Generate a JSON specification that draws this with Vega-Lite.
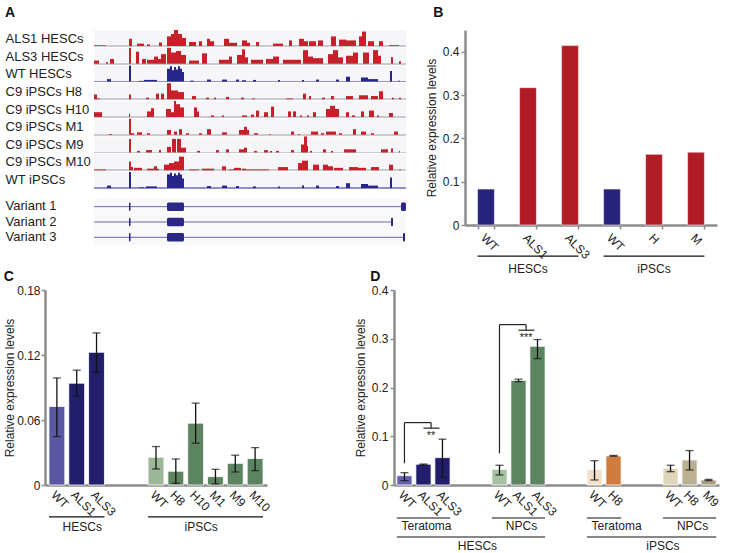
{
"$schema": "https://vega.github.io/schema/vega-lite/v6.json",
"padding": {"left": 3, "top": 6, "right": 0, "bottom": 0},
"background": "white",
"config": {
 "font": "Liberation Sans",
 "view": {"stroke": null},
 "axis": {"domainColor": "#8c8c8c", "domainWidth": 2.5, "tickColor": "#8c8c8c", "tickWidth": 1.5, "tickSize": 4, "labelColor": "#222", "titleColor": "#222", "labelFontSize": 12, "titleFontSize": 12, "titleFontWeight": "normal", "grid": false, "labelFont": "Liberation Sans", "titleFont": "Liberation Sans"},
 "title": {"fontSize": 14, "fontWeight": "bold", "anchor": "start", "font": "Liberation Sans", "color": "#111"}
},
"datasets": {
 "tr": [
  {"t":"ALS1 HESCs","a":0,"b":12,"v":0.04},{"t":"ALS1 HESCs","a":35,"b":38,"v":0.45},{"t":"ALS1 HESCs","a":43,"b":50,"v":0.15},{"t":"ALS1 HESCs","a":53,"b":56,"v":0.1},{"t":"ALS1 HESCs","a":65,"b":68,"v":0.22},{"t":"ALS1 HESCs","a":73,"b":77,"v":0.6},{"t":"ALS1 HESCs","a":77,"b":80,"v":0.75},{"t":"ALS1 HESCs","a":80,"b":84,"v":1},{"t":"ALS1 HESCs","a":84,"b":88,"v":0.75},{"t":"ALS1 HESCs","a":88,"b":92,"v":0.5},{"t":"ALS1 HESCs","a":95,"b":102,"v":0.25},{"t":"ALS1 HESCs","a":105,"b":108,"v":0.3},{"t":"ALS1 HESCs","a":113,"b":116,"v":0.45},{"t":"ALS1 HESCs","a":116,"b":120,"v":0.3},{"t":"ALS1 HESCs","a":130,"b":135,"v":0.45},{"t":"ALS1 HESCs","a":135,"b":143,"v":0.2},{"t":"ALS1 HESCs","a":148,"b":153,"v":0.35},{"t":"ALS1 HESCs","a":153,"b":156,"v":0.2},{"t":"ALS1 HESCs","a":162,"b":165,"v":0.25},{"t":"ALS1 HESCs","a":179,"b":189,"v":0.15},{"t":"ALS1 HESCs","a":195,"b":198,"v":0.35},{"t":"ALS1 HESCs","a":205,"b":210,"v":0.45},{"t":"ALS1 HESCs","a":210,"b":214,"v":0.3},{"t":"ALS1 HESCs","a":215,"b":222,"v":0.3},{"t":"ALS1 HESCs","a":224,"b":229,"v":0.35},{"t":"ALS1 HESCs","a":237,"b":242,"v":0.6},{"t":"ALS1 HESCs","a":245,"b":252,"v":0.4},{"t":"ALS1 HESCs","a":252,"b":262,"v":0.35},{"t":"ALS1 HESCs","a":265,"b":268,"v":0.6},{"t":"ALS1 HESCs","a":268,"b":272,"v":0.9},{"t":"ALS1 HESCs","a":274,"b":280,"v":0.3},{"t":"ALS1 HESCs","a":285,"b":289,"v":0.3},{"t":"ALS1 HESCs","a":295,"b":305,"v":0.05},
  {"t":"ALS3 HESCs","a":0,"b":5,"v":0.2},{"t":"ALS3 HESCs","a":12,"b":14,"v":0.1},{"t":"ALS3 HESCs","a":16,"b":20,"v":0.3},{"t":"ALS3 HESCs","a":35,"b":37,"v":1},{"t":"ALS3 HESCs","a":42,"b":45,"v":0.75},{"t":"ALS3 HESCs","a":48,"b":52,"v":0.3},{"t":"ALS3 HESCs","a":53,"b":60,"v":0.25},{"t":"ALS3 HESCs","a":60,"b":64,"v":0.45},{"t":"ALS3 HESCs","a":64,"b":67,"v":0.3},{"t":"ALS3 HESCs","a":67,"b":72,"v":0.6},{"t":"ALS3 HESCs","a":73,"b":77,"v":1},{"t":"ALS3 HESCs","a":77,"b":82,"v":0.7},{"t":"ALS3 HESCs","a":82,"b":87,"v":0.8},{"t":"ALS3 HESCs","a":87,"b":92,"v":0.55},{"t":"ALS3 HESCs","a":95,"b":105,"v":0.2},{"t":"ALS3 HESCs","a":108,"b":113,"v":0.65},{"t":"ALS3 HESCs","a":125,"b":135,"v":0.25},{"t":"ALS3 HESCs","a":135,"b":138,"v":0.45},{"t":"ALS3 HESCs","a":143,"b":148,"v":0.55},{"t":"ALS3 HESCs","a":148,"b":151,"v":0.9},{"t":"ALS3 HESCs","a":151,"b":154,"v":0.4},{"t":"ALS3 HESCs","a":157,"b":169,"v":0.25},{"t":"ALS3 HESCs","a":172,"b":179,"v":0.3},{"t":"ALS3 HESCs","a":179,"b":185,"v":0.45},{"t":"ALS3 HESCs","a":189,"b":207,"v":0.25},{"t":"ALS3 HESCs","a":209,"b":214,"v":0.85},{"t":"ALS3 HESCs","a":214,"b":219,"v":0.45},{"t":"ALS3 HESCs","a":219,"b":229,"v":0.35},{"t":"ALS3 HESCs","a":234,"b":239,"v":0.6},{"t":"ALS3 HESCs","a":239,"b":244,"v":0.85},{"t":"ALS3 HESCs","a":244,"b":249,"v":0.4},{"t":"ALS3 HESCs","a":252,"b":259,"v":0.5},{"t":"ALS3 HESCs","a":259,"b":264,"v":0.7},{"t":"ALS3 HESCs","a":269,"b":275,"v":0.7},{"t":"ALS3 HESCs","a":279,"b":284,"v":0.85},{"t":"ALS3 HESCs","a":284,"b":287,"v":0.5},{"t":"ALS3 HESCs","a":297,"b":299,"v":0.4},{"t":"ALS3 HESCs","a":305,"b":307,"v":0.15},
  {"t":"WT HESCs","a":13,"b":17,"v":0.15},{"t":"WT HESCs","a":35,"b":37,"v":1},{"t":"WT HESCs","a":45,"b":50,"v":0.04},{"t":"WT HESCs","a":50,"b":63,"v":0.1},{"t":"WT HESCs","a":73,"b":76,"v":0.8},{"t":"WT HESCs","a":76,"b":78,"v":0.95},{"t":"WT HESCs","a":78,"b":80,"v":0.7},{"t":"WT HESCs","a":80,"b":82,"v":0.9},{"t":"WT HESCs","a":82,"b":84,"v":0.75},{"t":"WT HESCs","a":84,"b":86,"v":0.95},{"t":"WT HESCs","a":86,"b":88,"v":0.8},{"t":"WT HESCs","a":88,"b":90,"v":0.6},{"t":"WT HESCs","a":96,"b":100,"v":0.05},{"t":"WT HESCs","a":113,"b":117,"v":0.12},{"t":"WT HESCs","a":128,"b":133,"v":0.12},{"t":"WT HESCs","a":142,"b":145,"v":0.12},{"t":"WT HESCs","a":148,"b":152,"v":0.08},{"t":"WT HESCs","a":159,"b":162,"v":0.1},{"t":"WT HESCs","a":184,"b":186,"v":0.1},{"t":"WT HESCs","a":208,"b":210,"v":0.1},{"t":"WT HESCs","a":222,"b":225,"v":0.12},{"t":"WT HESCs","a":242,"b":245,"v":0.12},{"t":"WT HESCs","a":252,"b":256,"v":0.3},{"t":"WT HESCs","a":267,"b":274,"v":0.25},{"t":"WT HESCs","a":274,"b":284,"v":0.15},{"t":"WT HESCs","a":296,"b":298,"v":0.65},{"t":"WT HESCs","a":304,"b":306,"v":0.05},
  {"t":"C9 iPSCs H8","a":0,"b":3,"v":0.3},{"t":"C9 iPSCs H8","a":3,"b":6,"v":0.05},{"t":"C9 iPSCs H8","a":35,"b":37,"v":0.3},{"t":"C9 iPSCs H8","a":52,"b":55,"v":0.1},{"t":"C9 iPSCs H8","a":62,"b":65,"v":0.35},{"t":"C9 iPSCs H8","a":67,"b":70,"v":0.35},{"t":"C9 iPSCs H8","a":73,"b":77,"v":1},{"t":"C9 iPSCs H8","a":77,"b":84,"v":0.55},{"t":"C9 iPSCs H8","a":84,"b":90,"v":0.45},{"t":"C9 iPSCs H8","a":98,"b":102,"v":0.2},{"t":"C9 iPSCs H8","a":112,"b":115,"v":0.1},{"t":"C9 iPSCs H8","a":120,"b":122,"v":0.1},{"t":"C9 iPSCs H8","a":132,"b":135,"v":0.15},{"t":"C9 iPSCs H8","a":147,"b":150,"v":0.1},{"t":"C9 iPSCs H8","a":158,"b":161,"v":0.05},{"t":"C9 iPSCs H8","a":192,"b":199,"v":0.05},{"t":"C9 iPSCs H8","a":209,"b":212,"v":0.35},{"t":"C9 iPSCs H8","a":215,"b":217,"v":0.2},{"t":"C9 iPSCs H8","a":228,"b":231,"v":0.1},{"t":"C9 iPSCs H8","a":237,"b":240,"v":0.2},{"t":"C9 iPSCs H8","a":252,"b":259,"v":0.2},{"t":"C9 iPSCs H8","a":265,"b":274,"v":0.25},{"t":"C9 iPSCs H8","a":277,"b":284,"v":0.2},{"t":"C9 iPSCs H8","a":285,"b":289,"v":0.5},{"t":"C9 iPSCs H8","a":298,"b":300,"v":0.1},{"t":"C9 iPSCs H8","a":305,"b":307,"v":0.1},
  {"t":"C9 iPSCs H10","a":0,"b":8,"v":0.3},{"t":"C9 iPSCs H10","a":35,"b":36,"v":0.2},{"t":"C9 iPSCs H10","a":53,"b":57,"v":0.35},{"t":"C9 iPSCs H10","a":57,"b":60,"v":0.55},{"t":"C9 iPSCs H10","a":72,"b":77,"v":0.5},{"t":"C9 iPSCs H10","a":77,"b":80,"v":0.3},{"t":"C9 iPSCs H10","a":80,"b":82,"v":1},{"t":"C9 iPSCs H10","a":82,"b":86,"v":0.8},{"t":"C9 iPSCs H10","a":86,"b":90,"v":0.6},{"t":"C9 iPSCs H10","a":100,"b":103,"v":0.6},{"t":"C9 iPSCs H10","a":103,"b":105,"v":0.35},{"t":"C9 iPSCs H10","a":117,"b":120,"v":0.1},{"t":"C9 iPSCs H10","a":128,"b":130,"v":0.1},{"t":"C9 iPSCs H10","a":148,"b":153,"v":0.1},{"t":"C9 iPSCs H10","a":157,"b":160,"v":0.15},{"t":"C9 iPSCs H10","a":162,"b":165,"v":0.4},{"t":"C9 iPSCs H10","a":170,"b":174,"v":0.3},{"t":"C9 iPSCs H10","a":177,"b":180,"v":0.65},{"t":"C9 iPSCs H10","a":194,"b":197,"v":0.35},{"t":"C9 iPSCs H10","a":199,"b":202,"v":0.35},{"t":"C9 iPSCs H10","a":206,"b":208,"v":0.1},{"t":"C9 iPSCs H10","a":213,"b":215,"v":0.1},{"t":"C9 iPSCs H10","a":219,"b":222,"v":0.3},{"t":"C9 iPSCs H10","a":232,"b":236,"v":0.5},{"t":"C9 iPSCs H10","a":236,"b":241,"v":0.7},{"t":"C9 iPSCs H10","a":241,"b":245,"v":0.5},{"t":"C9 iPSCs H10","a":252,"b":255,"v":0.3},{"t":"C9 iPSCs H10","a":258,"b":261,"v":0.1},{"t":"C9 iPSCs H10","a":267,"b":270,"v":0.35},{"t":"C9 iPSCs H10","a":275,"b":280,"v":0.4},{"t":"C9 iPSCs H10","a":283,"b":285,"v":0.1},{"t":"C9 iPSCs H10","a":295,"b":299,"v":0.25},
  {"t":"C9 iPSCs M1","a":15,"b":18,"v":0.05},{"t":"C9 iPSCs M1","a":35,"b":37,"v":1},{"t":"C9 iPSCs M1","a":37,"b":40,"v":0.1},{"t":"C9 iPSCs M1","a":43,"b":48,"v":0.15},{"t":"C9 iPSCs M1","a":53,"b":56,"v":0.1},{"t":"C9 iPSCs M1","a":73,"b":77,"v":0.3},{"t":"C9 iPSCs M1","a":80,"b":83,"v":0.2},{"t":"C9 iPSCs M1","a":85,"b":88,"v":0.35},{"t":"C9 iPSCs M1","a":92,"b":95,"v":0.1},{"t":"C9 iPSCs M1","a":105,"b":108,"v":0.1},{"t":"C9 iPSCs M1","a":113,"b":117,"v":0.35},{"t":"C9 iPSCs M1","a":128,"b":133,"v":0.15},{"t":"C9 iPSCs M1","a":145,"b":150,"v":0.3},{"t":"C9 iPSCs M1","a":150,"b":153,"v":0.5},{"t":"C9 iPSCs M1","a":153,"b":155,"v":0.3},{"t":"C9 iPSCs M1","a":160,"b":164,"v":0.1},{"t":"C9 iPSCs M1","a":175,"b":177,"v":0.05},{"t":"C9 iPSCs M1","a":197,"b":200,"v":0.2},{"t":"C9 iPSCs M1","a":204,"b":206,"v":0.05},{"t":"C9 iPSCs M1","a":217,"b":224,"v":0.2},{"t":"C9 iPSCs M1","a":227,"b":230,"v":0.1},{"t":"C9 iPSCs M1","a":232,"b":242,"v":0.2},{"t":"C9 iPSCs M1","a":245,"b":248,"v":0.1},{"t":"C9 iPSCs M1","a":259,"b":262,"v":0.35},{"t":"C9 iPSCs M1","a":267,"b":272,"v":0.2},{"t":"C9 iPSCs M1","a":277,"b":280,"v":0.1},{"t":"C9 iPSCs M1","a":300,"b":304,"v":0.2},
  {"t":"C9 iPSCs M9","a":35,"b":37,"v":0.85},{"t":"C9 iPSCs M9","a":43,"b":46,"v":0.1},{"t":"C9 iPSCs M9","a":52,"b":58,"v":0.15},{"t":"C9 iPSCs M9","a":65,"b":67,"v":0.15},{"t":"C9 iPSCs M9","a":73,"b":77,"v":0.35},{"t":"C9 iPSCs M9","a":78,"b":82,"v":0.85},{"t":"C9 iPSCs M9","a":83,"b":87,"v":0.85},{"t":"C9 iPSCs M9","a":87,"b":92,"v":0.3},{"t":"C9 iPSCs M9","a":103,"b":106,"v":0.1},{"t":"C9 iPSCs M9","a":122,"b":125,"v":0.15},{"t":"C9 iPSCs M9","a":132,"b":135,"v":0.2},{"t":"C9 iPSCs M9","a":145,"b":150,"v":0.2},{"t":"C9 iPSCs M9","a":150,"b":153,"v":0.3},{"t":"C9 iPSCs M9","a":160,"b":163,"v":0.1},{"t":"C9 iPSCs M9","a":170,"b":174,"v":0.15},{"t":"C9 iPSCs M9","a":176,"b":178,"v":0.1},{"t":"C9 iPSCs M9","a":182,"b":185,"v":0.1},{"t":"C9 iPSCs M9","a":197,"b":200,"v":0.15},{"t":"C9 iPSCs M9","a":207,"b":210,"v":0.5},{"t":"C9 iPSCs M9","a":210,"b":213,"v":1},{"t":"C9 iPSCs M9","a":213,"b":214,"v":0.4},{"t":"C9 iPSCs M9","a":216,"b":218,"v":0.1},{"t":"C9 iPSCs M9","a":229,"b":232,"v":0.2},{"t":"C9 iPSCs M9","a":237,"b":239,"v":0.1},{"t":"C9 iPSCs M9","a":250,"b":256,"v":0.2},{"t":"C9 iPSCs M9","a":256,"b":262,"v":0.2},{"t":"C9 iPSCs M9","a":287,"b":294,"v":0.2},{"t":"C9 iPSCs M9","a":297,"b":299,"v":0.25},{"t":"C9 iPSCs M9","a":305,"b":306,"v":0.1},
  {"t":"C9 iPSCs M10","a":0,"b":12,"v":0.05},{"t":"C9 iPSCs M10","a":35,"b":37,"v":0.55},{"t":"C9 iPSCs M10","a":37,"b":39,"v":0.2},{"t":"C9 iPSCs M10","a":40,"b":48,"v":0.15},{"t":"C9 iPSCs M10","a":53,"b":60,"v":0.1},{"t":"C9 iPSCs M10","a":60,"b":63,"v":0.25},{"t":"C9 iPSCs M10","a":63,"b":65,"v":0.1},{"t":"C9 iPSCs M10","a":70,"b":75,"v":0.35},{"t":"C9 iPSCs M10","a":75,"b":80,"v":0.45},{"t":"C9 iPSCs M10","a":80,"b":85,"v":0.55},{"t":"C9 iPSCs M10","a":85,"b":90,"v":0.85},{"t":"C9 iPSCs M10","a":95,"b":105,"v":0.05},{"t":"C9 iPSCs M10","a":108,"b":120,"v":0.1},{"t":"C9 iPSCs M10","a":128,"b":132,"v":0.25},{"t":"C9 iPSCs M10","a":135,"b":140,"v":0.05},{"t":"C9 iPSCs M10","a":140,"b":147,"v":0.15},{"t":"C9 iPSCs M10","a":148,"b":152,"v":0.1},{"t":"C9 iPSCs M10","a":152,"b":175,"v":0.05},{"t":"C9 iPSCs M10","a":184,"b":194,"v":0.2},{"t":"C9 iPSCs M10","a":204,"b":208,"v":0.45},{"t":"C9 iPSCs M10","a":208,"b":214,"v":0.6},{"t":"C9 iPSCs M10","a":219,"b":225,"v":0.35},{"t":"C9 iPSCs M10","a":229,"b":234,"v":0.35},{"t":"C9 iPSCs M10","a":234,"b":239,"v":0.25},{"t":"C9 iPSCs M10","a":240,"b":249,"v":0.15},{"t":"C9 iPSCs M10","a":255,"b":264,"v":0.2},{"t":"C9 iPSCs M10","a":264,"b":272,"v":0.15},{"t":"C9 iPSCs M10","a":277,"b":285,"v":0.2},{"t":"C9 iPSCs M10","a":295,"b":299,"v":0.35},{"t":"C9 iPSCs M10","a":305,"b":307,"v":0.05},
  {"t":"WT iPSCs","a":13,"b":17,"v":0.15},{"t":"WT iPSCs","a":35,"b":37,"v":1},{"t":"WT iPSCs","a":45,"b":50,"v":0.04},{"t":"WT iPSCs","a":52,"b":63,"v":0.1},{"t":"WT iPSCs","a":73,"b":76,"v":0.85},{"t":"WT iPSCs","a":76,"b":78,"v":0.95},{"t":"WT iPSCs","a":78,"b":80,"v":0.75},{"t":"WT iPSCs","a":80,"b":82,"v":0.9},{"t":"WT iPSCs","a":82,"b":84,"v":0.8},{"t":"WT iPSCs","a":84,"b":86,"v":0.95},{"t":"WT iPSCs","a":86,"b":88,"v":0.85},{"t":"WT iPSCs","a":88,"b":90,"v":0.6},{"t":"WT iPSCs","a":113,"b":117,"v":0.12},{"t":"WT iPSCs","a":128,"b":133,"v":0.15},{"t":"WT iPSCs","a":142,"b":145,"v":0.12},{"t":"WT iPSCs","a":159,"b":162,"v":0.1},{"t":"WT iPSCs","a":184,"b":186,"v":0.1},{"t":"WT iPSCs","a":208,"b":210,"v":0.15},{"t":"WT iPSCs","a":222,"b":225,"v":0.15},{"t":"WT iPSCs","a":242,"b":245,"v":0.12},{"t":"WT iPSCs","a":252,"b":256,"v":0.3},{"t":"WT iPSCs","a":267,"b":274,"v":0.25},{"t":"WT iPSCs","a":274,"b":284,"v":0.15},{"t":"WT iPSCs","a":296,"b":298,"v":0.65}
 ],
 "va": [
  {"var":"Variant 1","k":"l","a":0,"b":312},{"var":"Variant 1","k":"e","a":35,"b":36.5},{"var":"Variant 1","k":"e","a":73,"b":90},{"var":"Variant 1","k":"e","a":307,"b":312},
  {"var":"Variant 2","k":"l","a":0,"b":299},{"var":"Variant 2","k":"e","a":35,"b":36.5},{"var":"Variant 2","k":"e","a":73,"b":90},{"var":"Variant 2","k":"e","a":297,"b":299},
  {"var":"Variant 3","k":"l","a":0,"b":311},{"var":"Variant 3","k":"e","a":35,"b":36.5},{"var":"Variant 3","k":"e","a":73,"b":90},{"var":"Variant 3","k":"e","a":309,"b":311}
 ],
 "b": [{"id":"H|WT","v":0.083},{"id":"H|ALS1","v":0.317},{"id":"H|ALS3","v":0.414},{"id":"I|WT","v":0.083},{"id":"I|H","v":0.163},{"id":"I|M","v":0.168}],
 "bg": [{"a":"H|WT","b":"H|ALS3","m":"H|ALS1","g":"HESCs"},{"a":"I|WT","b":"I|M","m":"I|H","g":"iPSCs"}],
 "c": [
  {"id":"H|WT","v":0.0725,"lo":0.0447,"hi":0.0988},{"id":"H|ALS1","v":0.094,"lo":0.0818,"hi":0.106},{"id":"H|ALS3","v":0.1225,"lo":0.104,"hi":0.1404},
  {"id":"I|WT","v":0.0256,"lo":0.0148,"hi":0.0355},{"id":"I|H8","v":0.0127,"lo":0.0015,"hi":0.024},{"id":"I|H10","v":0.0571,"lo":0.0386,"hi":0.0756},
  {"id":"I|M1","v":0.0077,"lo":0.001,"hi":0.0145},{"id":"I|M9","v":0.02,"lo":0.012,"hi":0.0275},{"id":"I|M10","v":0.0244,"lo":0.0133,"hi":0.0345}
 ],
 "cg": [{"a":"H|WT","b":"H|ALS3","m":"H|ALS1","g":"HESCs"},{"a":"I|WT","b":"I|M10","m":"I|H10","g":"iPSCs"}],
 "d": [
  {"id":"HT|WT","v":0.0192,"lo":0.0089,"hi":0.0253},{"id":"HT|ALS1","v":0.0426,"lo":0.041,"hi":0.043},{"id":"HT|ALS3","v":0.0562,"lo":0.0158,"hi":0.094},
  {"id":"HN|WT","v":0.0323,"lo":0.0206,"hi":0.0405},{"id":"HN|ALS1","v":0.2147,"lo":0.212,"hi":0.217},{"id":"HN|ALS3","v":0.2846,"lo":0.2593,"hi":0.2984},
  {"id":"IT|WT","v":0.0323,"lo":0.0103,"hi":0.05},{"id":"IT|H8","v":0.0597,"lo":0.059,"hi":0.0605},
  {"id":"IN|WT","v":0.0343,"lo":0.0274,"hi":0.0405},{"id":"IN|H8","v":0.0514,"lo":0.0309,"hi":0.0706},{"id":"IN|M9","v":0.0103,"lo":0.009,"hi":0.0115}
 ],
 "dg": [
  {"k":"s","a":"HT|WT","b":"HT|ALS3","m":"HT|ALS1","g":"Teratoma"},
  {"k":"s","a":"HN|WT","b":"HN|ALS3","m":"HN|ALS1","g":"NPCs"},
  {"k":"s","a":"IT|WT","b":"IT|H8","m":"IT|H8","g":"Teratoma"},
  {"k":"s","a":"IN|WT","b":"IN|M9","m":"IN|H8","g":"NPCs"},
  {"k":"m","a":"HT|WT","b":"HN|ALS3","m":"g2|","g":"HESCs"},
  {"k":"n","a":"IT|WT","b":"IN|M9","m":"IN|WT","g":"iPSCs"}
 ],
 "sig": [
  {"k":"v1","x":"HT|WT","y":0.0446,"y2":0.128},{"k":"v1","x":"HN|WT","y":0.065,"y2":0.329},
  {"k":"h1","x":"HT|WT","x2":"HT|ALS1","y":0.128},{"k":"h1","x":"HN|WT","x2":"HN|ALS1","y":0.329},
  {"k":"v2","x":"HT|ALS1","y":0.1166,"y2":0.128},{"k":"v2","x":"HN|ALS1","y":0.3175,"y2":0.329},
  {"k":"h2","x":"HT|ALS1","x2":"HT|ALS3","y":0.1166},{"k":"h2","x":"HN|ALS1","x2":"HN|ALS3","y":0.3175},
  {"k":"t","x":"HT|ALS1","y":0.113,"s":"**"},{"k":"t","x":"HN|ALS1","y":0.314,"s":"***"}
 ]
},
"columns": 1,
"align": "none",
"spacing": {"row": -6, "column": 0},
"resolve": {"scale": {"color": "independent"}},
"concat": [
 {"spacing": 18, "resolve": {"scale": {"color": "independent"}}, "hconcat": [
  {"title": {"text": "A", "offset": 10},
   "spacing": 2,
   "hconcat": [
    {"spacing": 10, "bounds": "flush",
     "vconcat": [
      {"data": {"name": "tr"}, "width": 41, "height": 158,
       "mark": {"type": "point", "opacity": 0},
       "encoding": {"y": {"field": "t", "type": "nominal",
         "sort": ["ALS1 HESCs","ALS3 HESCs","WT HESCs","C9 iPSCs H8","C9 iPSCs H10","C9 iPSCs M1","C9 iPSCs M9","C9 iPSCs M10","WT iPSCs"],
         "axis": {"title": null, "domain": false, "ticks": false, "labelAlign": "left", "labelPadding": 40, "labelFontSize": 13, "labelLimit": 200}}}},
      {"data": {"name": "va"}, "width": 41, "height": 46,
       "mark": {"type": "point", "opacity": 0},
       "encoding": {"y": {"field": "var", "type": "nominal",
         "axis": {"title": null, "domain": false, "ticks": false, "labelAlign": "left", "labelPadding": 40, "labelFontSize": 13, "labelLimit": 200}}}}
     ]
    },
    {"spacing": 10,
     "vconcat": [
      {"data": {"name": "tr"}, "spacing": 1.75, "bounds": "flush",
       "vconcat": [
        {"transform": [{"filter": "datum.t == 'ALS1 HESCs'"}], "width": 312, "height": 16, "view": {"fill": "#f6f6f8"},
         "layer": [
          {"mark": {"type": "rule", "color": "#c9c9d0"}, "encoding": {"y": {"datum": 0, "type": "quantitative", "scale": {"domain": [0, 1]}, "axis": null}}},
          {"mark": {"type": "rect", "color": "#c8202a"}, "encoding": {"x": {"field": "a", "type": "quantitative", "scale": {"domain": [0, 312]}, "axis": null}, "x2": {"field": "b"}, "y": {"field": "v", "type": "quantitative", "scale": {"domain": [0, 1]}, "axis": null}, "y2": {"datum": 0}}}
         ]},
        {"transform": [{"filter": "datum.t == 'ALS3 HESCs'"}], "width": 312, "height": 16, "view": {"fill": "#f6f6f8"},
         "layer": [
          {"mark": {"type": "rule", "color": "#c9c9d0"}, "encoding": {"y": {"datum": 0, "type": "quantitative", "scale": {"domain": [0, 1]}, "axis": null}}},
          {"mark": {"type": "rect", "color": "#c8202a"}, "encoding": {"x": {"field": "a", "type": "quantitative", "scale": {"domain": [0, 312]}, "axis": null}, "x2": {"field": "b"}, "y": {"field": "v", "type": "quantitative", "scale": {"domain": [0, 1]}, "axis": null}, "y2": {"datum": 0}}}
         ]},
        {"transform": [{"filter": "datum.t == 'WT HESCs'"}], "width": 312, "height": 16, "view": {"fill": "#f6f6f8"},
         "layer": [
          {"mark": {"type": "rule", "color": "#8f8cd0"}, "encoding": {"y": {"datum": 0, "type": "quantitative", "scale": {"domain": [0, 1]}, "axis": null}}},
          {"mark": {"type": "rect", "color": "#27248a"}, "encoding": {"x": {"field": "a", "type": "quantitative", "scale": {"domain": [0, 312]}, "axis": null}, "x2": {"field": "b"}, "y": {"field": "v", "type": "quantitative", "scale": {"domain": [0, 1]}, "axis": null}, "y2": {"datum": 0}}}
         ]},
        {"transform": [{"filter": "datum.t == 'C9 iPSCs H8'"}], "width": 312, "height": 16, "view": {"fill": "#f6f6f8"},
         "layer": [
          {"mark": {"type": "rule", "color": "#c9c9d0"}, "encoding": {"y": {"datum": 0, "type": "quantitative", "scale": {"domain": [0, 1]}, "axis": null}}},
          {"mark": {"type": "rect", "color": "#c8202a"}, "encoding": {"x": {"field": "a", "type": "quantitative", "scale": {"domain": [0, 312]}, "axis": null}, "x2": {"field": "b"}, "y": {"field": "v", "type": "quantitative", "scale": {"domain": [0, 1]}, "axis": null}, "y2": {"datum": 0}}}
         ]},
        {"transform": [{"filter": "datum.t == 'C9 iPSCs H10'"}], "width": 312, "height": 16, "view": {"fill": "#f6f6f8"},
         "layer": [
          {"mark": {"type": "rule", "color": "#c9c9d0"}, "encoding": {"y": {"datum": 0, "type": "quantitative", "scale": {"domain": [0, 1]}, "axis": null}}},
          {"mark": {"type": "rect", "color": "#c8202a"}, "encoding": {"x": {"field": "a", "type": "quantitative", "scale": {"domain": [0, 312]}, "axis": null}, "x2": {"field": "b"}, "y": {"field": "v", "type": "quantitative", "scale": {"domain": [0, 1]}, "axis": null}, "y2": {"datum": 0}}}
         ]},
        {"transform": [{"filter": "datum.t == 'C9 iPSCs M1'"}], "width": 312, "height": 16, "view": {"fill": "#f6f6f8"},
         "layer": [
          {"mark": {"type": "rule", "color": "#c9c9d0"}, "encoding": {"y": {"datum": 0, "type": "quantitative", "scale": {"domain": [0, 1]}, "axis": null}}},
          {"mark": {"type": "rect", "color": "#c8202a"}, "encoding": {"x": {"field": "a", "type": "quantitative", "scale": {"domain": [0, 312]}, "axis": null}, "x2": {"field": "b"}, "y": {"field": "v", "type": "quantitative", "scale": {"domain": [0, 1]}, "axis": null}, "y2": {"datum": 0}}}
         ]},
        {"transform": [{"filter": "datum.t == 'C9 iPSCs M9'"}], "width": 312, "height": 16, "view": {"fill": "#f6f6f8"},
         "layer": [
          {"mark": {"type": "rule", "color": "#c9c9d0"}, "encoding": {"y": {"datum": 0, "type": "quantitative", "scale": {"domain": [0, 1]}, "axis": null}}},
          {"mark": {"type": "rect", "color": "#c8202a"}, "encoding": {"x": {"field": "a", "type": "quantitative", "scale": {"domain": [0, 312]}, "axis": null}, "x2": {"field": "b"}, "y": {"field": "v", "type": "quantitative", "scale": {"domain": [0, 1]}, "axis": null}, "y2": {"datum": 0}}}
         ]},
        {"transform": [{"filter": "datum.t == 'C9 iPSCs M10'"}], "width": 312, "height": 16, "view": {"fill": "#f6f6f8"},
         "layer": [
          {"mark": {"type": "rule", "color": "#c9c9d0"}, "encoding": {"y": {"datum": 0, "type": "quantitative", "scale": {"domain": [0, 1]}, "axis": null}}},
          {"mark": {"type": "rect", "color": "#c8202a"}, "encoding": {"x": {"field": "a", "type": "quantitative", "scale": {"domain": [0, 312]}, "axis": null}, "x2": {"field": "b"}, "y": {"field": "v", "type": "quantitative", "scale": {"domain": [0, 1]}, "axis": null}, "y2": {"datum": 0}}}
         ]},
        {"transform": [{"filter": "datum.t == 'WT iPSCs'"}], "width": 312, "height": 16, "view": {"fill": "#f6f6f8"},
         "layer": [
          {"mark": {"type": "rule", "color": "#8f8cd0"}, "encoding": {"y": {"datum": 0, "type": "quantitative", "scale": {"domain": [0, 1]}, "axis": null}}},
          {"mark": {"type": "rect", "color": "#27248a"}, "encoding": {"x": {"field": "a", "type": "quantitative", "scale": {"domain": [0, 312]}, "axis": null}, "x2": {"field": "b"}, "y": {"field": "v", "type": "quantitative", "scale": {"domain": [0, 1]}, "axis": null}, "y2": {"datum": 0}}}
         ]}
       ]
      },
      {"data": {"name": "va"},
       "width": 312, "height": 46,
       "view": {"fill": "#f9f9fa"},
       "layer": [
        {"transform": [{"filter": "datum.k == 'l'"}],
         "mark": {"type": "rule", "color": "#6a67bd", "strokeWidth": 1},
         "encoding": {
          "x": {"field": "a", "type": "quantitative", "scale": {"domain": [0, 312]}, "axis": null},
          "x2": {"field": "b"},
          "y": {"field": "var", "type": "nominal", "axis": null}}},
        {"transform": [{"filter": "datum.k == 'e'"}],
         "mark": {"type": "bar", "color": "#2b2785", "height": {"band": 0.55}, "cornerRadius": 1.5},
         "encoding": {
          "x": {"field": "a", "type": "quantitative", "scale": {"domain": [0, 312]}},
          "x2": {"field": "b"},
          "y": {"field": "var", "type": "nominal", "axis": null}}}
       ]
      }
     ]
    }
   ]
  },
  {"title": {"text": "B", "dx": 8, "offset": 10},
   "width": 252, "height": 195,
   "layer": [
    {"data": {"name": "b"},
     "mark": {"type": "bar", "stroke": "#f0f0f0", "strokeWidth": 0.6},
     "encoding": {
      "x": {"field": "id", "type": "nominal", "scale": {"domain": ["H|WT","H|ALS1","H|ALS3","I|WT","I|H","I|M"], "paddingInner": 0.6, "paddingOuter": 0.3},
            "axis": {"title": null, "labelAngle": 45, "tickBand": "extent", "labelExpr": "split(datum.label, '|')[1]", "labelPadding": 3}},
      "y": {"field": "v", "type": "quantitative", "scale": {"domain": [0, 0.45]},
            "axis": {"title": "Relative expression levels", "values": [0,0.05,0.1,0.15,0.2,0.25,0.3,0.35,0.4,0.45], "labelExpr": "round(datum.value*100) % 10 == 0 ? (datum.value == 0 ? '0' : format(datum.value, '.1f')) : ''"}},
      "color": {"field": "id", "type": "nominal", "legend": null, "scale": {"domain": ["H|WT","H|ALS1","H|ALS3","I|WT","I|H","I|M"], "range": ["#27237b","#b11b25","#b11b25","#27237b","#b11b25","#b11b25"]}}}},
    {"data": {"name": "bg"},
     "mark": {"type": "rule", "color": "#111", "strokeWidth": 1.2},
     "encoding": {
      "x": {"field": "a", "type": "nominal", "bandPosition": 0, "scale": {"domain": ["H|WT","H|ALS1","H|ALS3","I|WT","I|H","I|M"]}},
      "x2": {"field": "b", "bandPosition": 1},
      "y": {"datum": -0.072, "type": "quantitative", "scale": {"domain": [0, 0.45]}, "title": "Relative expression levels"}}},
    {"data": {"name": "bg"},
     "mark": {"type": "text", "fontSize": 12, "baseline": "middle", "color": "#222"},
     "encoding": {
      "x": {"field": "m", "type": "nominal", "scale": {"domain": ["H|WT","H|ALS1","H|ALS3","I|WT","I|H","I|M"]}},
      "y": {"datum": -0.102, "type": "quantitative", "scale": {"domain": [0, 0.45]}, "title": "Relative expression levels"},
      "text": {"field": "g"}}}
   ]
  }
 ]},
 {"spacing": 82, "resolve": {"scale": {"color": "independent"}}, "hconcat": [
  {"title": {"text": "C", "offset": 0},
   "width": 222, "height": 195,
   "layer": [
    {"data": {"name": "c"},
     "mark": {"type": "bar", "stroke": "white", "strokeWidth": 0.8},
     "encoding": {
      "x": {"field": "id", "type": "nominal", "scale": {"domain": ["H|WT","H|ALS1","H|ALS3","g1|","g2|","I|WT","I|H8","I|H10","I|M1","I|M9","I|M10"], "paddingInner": 0.2, "paddingOuter": 0.2},
            "axis": {"title": null, "ticks": false, "labelAngle": 45, "labelExpr": "split(datum.label, '|')[1]", "labelPadding": 4}},
      "y": {"field": "v", "type": "quantitative", "scale": {"domain": [0, 0.18]},
            "axis": {"title": "Relative expression levels", "titlePadding": 0, "labelPadding": 1, "values": [0, 0.06, 0.12, 0.18], "labelExpr": "datum.value == 0 ? '0' : format(datum.value, '.2f')"}},
      "color": {"field": "id", "type": "nominal", "legend": null, "scale": {"domain": ["H|WT","H|ALS1","H|ALS3","I|WT","I|H8","I|H10","I|M1","I|M9","I|M10"], "range": ["#5b57a2","#221e6b","#221e6b","#9db899","#5d8460","#5d8460","#5d8460","#5d8460","#5d8460"]}}}},
    {"data": {"name": "c"},
     "mark": {"type": "errorbar", "color": "#111", "ticks": {"size": 8, "thickness": 1.3}, "rule": {"strokeWidth": 1.3}},
     "encoding": {
      "x": {"field": "id", "type": "nominal", "scale": {"domain": ["H|WT","H|ALS1","H|ALS3","g1|","g2|","I|WT","I|H8","I|H10","I|M1","I|M9","I|M10"]}},
      "y": {"field": "lo", "type": "quantitative", "scale": {"domain": [0, 0.18]}, "title": "Relative expression levels"},
      "y2": {"field": "hi"}}},
    {"data": {"name": "cg"},
     "mark": {"type": "rule", "color": "#111", "strokeWidth": 1.2},
     "encoding": {
      "x": {"field": "a", "type": "nominal", "bandPosition": 0, "scale": {"domain": ["H|WT","H|ALS1","H|ALS3","g1|","g2|","I|WT","I|H8","I|H10","I|M1","I|M9","I|M10"]}},
      "x2": {"field": "b", "bandPosition": 1},
      "y": {"datum": -0.0295, "type": "quantitative", "scale": {"domain": [0, 0.18]}, "title": "Relative expression levels"}}},
    {"data": {"name": "cg"},
     "mark": {"type": "text", "fontSize": 12, "baseline": "middle", "color": "#222"},
     "encoding": {
      "x": {"field": "m", "type": "nominal", "bandPosition": 0.85, "scale": {"domain": ["H|WT","H|ALS1","H|ALS3","g1|","g2|","I|WT","I|H8","I|H10","I|M1","I|M9","I|M10"]}},
      "y": {"datum": -0.039, "type": "quantitative", "scale": {"domain": [0, 0.18]}, "title": "Relative expression levels"},
      "text": {"field": "g"}}}
   ]
  },
  {"title": {"text": "D", "offset": 0, "dx": 16},
   "width": 325, "height": 195,
   "layer": [
    {"data": {"name": "d"},
     "mark": {"type": "bar", "stroke": "white", "strokeWidth": 0.8},
     "encoding": {
      "x": {"field": "id", "type": "nominal", "scale": {"domain": ["HT|WT","HT|ALS1","HT|ALS3","g1|","g2|","HN|WT","HN|ALS1","HN|ALS3","g3|","g4|","IT|WT","IT|H8","g5|","g6|","IN|WT","IN|H8","IN|M9"], "paddingInner": 0.2, "paddingOuter": 0.15},
            "axis": {"title": null, "ticks": false, "labelAngle": 45, "labelExpr": "split(datum.label, '|')[1]", "labelPadding": 4}},
      "y": {"field": "v", "type": "quantitative", "scale": {"domain": [0, 0.4]},
            "axis": {"title": "Relative expression levels", "values": [0, 0.1, 0.2, 0.3, 0.4], "labelExpr": "datum.value == 0 ? '0' : format(datum.value, '.1f')"}},
      "color": {"field": "id", "type": "nominal", "legend": null, "scale": {"domain": ["HT|WT","HT|ALS1","HT|ALS3","HN|WT","HN|ALS1","HN|ALS3","IT|WT","IT|H8","IN|WT","IN|H8","IN|M9"], "range": ["#6561b0","#221e6b","#221e6b","#a7c2a2","#5d8460","#5d8460","#f4e0c8","#cf7c3e","#dfd6b9","#bab092","#a99f80"]}}}},
    {"data": {"name": "d"},
     "mark": {"type": "errorbar", "color": "#111", "ticks": {"size": 8, "thickness": 1.3}, "rule": {"strokeWidth": 1.3}},
     "encoding": {
      "x": {"field": "id", "type": "nominal", "scale": {"domain": ["HT|WT","HT|ALS1","HT|ALS3","g1|","g2|","HN|WT","HN|ALS1","HN|ALS3","g3|","g4|","IT|WT","IT|H8","g5|","g6|","IN|WT","IN|H8","IN|M9"]}},
      "y": {"field": "lo", "type": "quantitative", "scale": {"domain": [0, 0.4]}, "title": "Relative expression levels"},
      "y2": {"field": "hi"}}},
    {"data": {"name": "sig"}, "transform": [{"filter": "datum.k == 'v1'"}],
     "mark": {"type": "rule", "color": "#222", "strokeWidth": 1.2},
     "encoding": {
      "x": {"field": "x", "type": "nominal", "scale": {"domain": ["HT|WT","HT|ALS1","HT|ALS3","g1|","g2|","HN|WT","HN|ALS1","HN|ALS3","g3|","g4|","IT|WT","IT|H8","g5|","g6|","IN|WT","IN|H8","IN|M9"]}},
      "y": {"field": "y", "type": "quantitative", "scale": {"domain": [0, 0.4]}, "title": "Relative expression levels"},
      "y2": {"field": "y2"}}},
    {"data": {"name": "sig"}, "transform": [{"filter": "datum.k == 'h1'"}],
     "mark": {"type": "rule", "color": "#222", "strokeWidth": 1.2},
     "encoding": {
      "x": {"field": "x", "type": "nominal", "scale": {"domain": ["HT|WT","HT|ALS1","HT|ALS3","g1|","g2|","HN|WT","HN|ALS1","HN|ALS3","g3|","g4|","IT|WT","IT|H8","g5|","g6|","IN|WT","IN|H8","IN|M9"]}},
      "x2": {"field": "x2", "bandPosition": 1},
      "y": {"field": "y", "type": "quantitative", "scale": {"domain": [0, 0.4]}, "title": "Relative expression levels"}}},
    {"data": {"name": "sig"}, "transform": [{"filter": "datum.k == 'v2'"}],
     "mark": {"type": "rule", "color": "#222", "strokeWidth": 1.2},
     "encoding": {
      "x": {"field": "x", "type": "nominal", "bandPosition": 1, "scale": {"domain": ["HT|WT","HT|ALS1","HT|ALS3","g1|","g2|","HN|WT","HN|ALS1","HN|ALS3","g3|","g4|","IT|WT","IT|H8","g5|","g6|","IN|WT","IN|H8","IN|M9"]}},
      "y": {"field": "y", "type": "quantitative", "scale": {"domain": [0, 0.4]}, "title": "Relative expression levels"},
      "y2": {"field": "y2"}}},
    {"data": {"name": "sig"}, "transform": [{"filter": "datum.k == 'h2'"}],
     "mark": {"type": "rule", "color": "#222", "strokeWidth": 1.2},
     "encoding": {
      "x": {"field": "x", "type": "nominal", "scale": {"domain": ["HT|WT","HT|ALS1","HT|ALS3","g1|","g2|","HN|WT","HN|ALS1","HN|ALS3","g3|","g4|","IT|WT","IT|H8","g5|","g6|","IN|WT","IN|H8","IN|M9"]}},
      "x2": {"field": "x2", "bandPosition": 0.3},
      "y": {"field": "y", "type": "quantitative", "scale": {"domain": [0, 0.4]}, "title": "Relative expression levels"}}},
    {"data": {"name": "sig"}, "transform": [{"filter": "datum.k == 't'"}],
     "mark": {"type": "text", "fontSize": 11, "baseline": "top", "color": "#222"},
     "encoding": {
      "x": {"field": "x", "type": "nominal", "bandPosition": 1, "scale": {"domain": ["HT|WT","HT|ALS1","HT|ALS3","g1|","g2|","HN|WT","HN|ALS1","HN|ALS3","g3|","g4|","IT|WT","IT|H8","g5|","g6|","IN|WT","IN|H8","IN|M9"]}},
      "y": {"field": "y", "type": "quantitative", "scale": {"domain": [0, 0.4]}, "title": "Relative expression levels"},
      "text": {"field": "s"}}},
    {"data": {"name": "dg"}, "transform": [{"filter": "datum.k == 's'"}],
     "mark": {"type": "rule", "color": "#111", "strokeWidth": 1.2},
     "encoding": {
      "x": {"field": "a", "type": "nominal", "bandPosition": 0, "scale": {"domain": ["HT|WT","HT|ALS1","HT|ALS3","g1|","g2|","HN|WT","HN|ALS1","HN|ALS3","g3|","g4|","IT|WT","IT|H8","g5|","g6|","IN|WT","IN|H8","IN|M9"]}},
      "x2": {"field": "b", "bandPosition": 1},
      "y": {"datum": -0.0677, "type": "quantitative", "scale": {"domain": [0, 0.4]}, "title": "Relative expression levels"}}},
    {"data": {"name": "dg"}, "transform": [{"filter": "datum.k != 's'"}],
     "mark": {"type": "rule", "color": "#111", "strokeWidth": 1.2},
     "encoding": {
      "x": {"field": "a", "type": "nominal", "bandPosition": 0, "scale": {"domain": ["HT|WT","HT|ALS1","HT|ALS3","g1|","g2|","HN|WT","HN|ALS1","HN|ALS3","g3|","g4|","IT|WT","IT|H8","g5|","g6|","IN|WT","IN|H8","IN|M9"]}},
      "x2": {"field": "b", "bandPosition": 1},
      "y": {"datum": -0.1067, "type": "quantitative", "scale": {"domain": [0, 0.4]}, "title": "Relative expression levels"}}},
    {"data": {"name": "dg"}, "transform": [{"filter": "datum.k == 's'"}],
     "mark": {"type": "text", "fontSize": 12, "baseline": "middle", "color": "#222"},
     "encoding": {
      "x": {"field": "m", "type": "nominal", "bandPosition": 0.7, "scale": {"domain": ["HT|WT","HT|ALS1","HT|ALS3","g1|","g2|","HN|WT","HN|ALS1","HN|ALS3","g3|","g4|","IT|WT","IT|H8","g5|","g6|","IN|WT","IN|H8","IN|M9"]}},
      "y": {"datum": -0.085, "type": "quantitative", "scale": {"domain": [0, 0.4]}, "title": "Relative expression levels"},
      "text": {"field": "g"}}},
    {"data": {"name": "dg"}, "transform": [{"filter": "datum.k == 'm'"}],
     "mark": {"type": "text", "fontSize": 12, "baseline": "middle", "color": "#222"},
     "encoding": {
      "x": {"field": "m", "type": "nominal", "bandPosition": 0.3, "scale": {"domain": ["HT|WT","HT|ALS1","HT|ALS3","g1|","g2|","HN|WT","HN|ALS1","HN|ALS3","g3|","g4|","IT|WT","IT|H8","g5|","g6|","IN|WT","IN|H8","IN|M9"]}},
      "y": {"datum": -0.125, "type": "quantitative", "scale": {"domain": [0, 0.4]}, "title": "Relative expression levels"},
      "text": {"field": "g"}}},
    {"data": {"name": "dg"}, "transform": [{"filter": "datum.k == 'n'"}],
     "mark": {"type": "text", "fontSize": 12, "baseline": "middle", "color": "#222"},
     "encoding": {
      "x": {"field": "m", "type": "nominal", "bandPosition": 0, "scale": {"domain": ["HT|WT","HT|ALS1","HT|ALS3","g1|","g2|","HN|WT","HN|ALS1","HN|ALS3","g3|","g4|","IT|WT","IT|H8","g5|","g6|","IN|WT","IN|H8","IN|M9"]}},
      "y": {"datum": -0.125, "type": "quantitative", "scale": {"domain": [0, 0.4]}, "title": "Relative expression levels"},
      "text": {"field": "g"}}}
   ]
  }
 ]}
]
}
